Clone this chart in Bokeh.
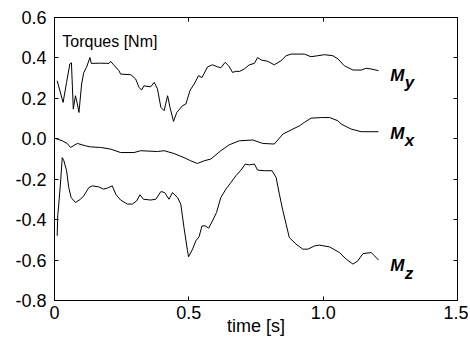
from bokeh.plotting import figure
from bokeh.models import Range1d, LinearAxis, FixedTicker, Label
from bokeh.embed import file_html
from bokeh.resources import INLINE
from bokeh.core.properties import value

# ---- data ----
t_my = [0.010, 0.032, 0.045, 0.057, 0.063, 0.070, 0.078, 0.085, 0.091, 0.101,
        0.109, 0.119, 0.132, 0.137, 0.172, 0.203, 0.209, 0.220, 0.240, 0.246,
        0.284, 0.302, 0.315, 0.324, 0.333, 0.358, 0.371, 0.383, 0.396, 0.408,
        0.421, 0.430, 0.443, 0.455, 0.476, 0.489, 0.505, 0.520, 0.536, 0.549,
        0.570, 0.588, 0.607, 0.619, 0.635, 0.648, 0.663, 0.675, 0.688, 0.706,
        0.725, 0.744, 0.756, 0.769, 0.794, 0.818, 0.843, 0.862, 0.881, 0.930,
        0.955, 0.980, 1.005, 1.036, 1.055, 1.079, 1.111, 1.142, 1.160, 1.179, 1.206]
my = [0.287, 0.180, 0.279, 0.370, 0.376, 0.147, 0.213, 0.173, 0.130, 0.271,
      0.328, 0.353, 0.402, 0.373, 0.374, 0.373, 0.383, 0.366, 0.337, 0.320,
      0.317, 0.296, 0.254, 0.241, 0.262, 0.257, 0.279, 0.248, 0.155, 0.139,
      0.213, 0.155, 0.086, 0.130, 0.163, 0.172, 0.241, 0.271, 0.312, 0.303,
      0.356, 0.366, 0.356, 0.351, 0.378, 0.361, 0.328, 0.334, 0.333, 0.345,
      0.366, 0.373, 0.402, 0.390, 0.383, 0.366, 0.386, 0.411, 0.419, 0.419,
      0.406, 0.411, 0.416, 0.411, 0.395, 0.361, 0.340, 0.340, 0.349, 0.345, 0.337]

t_mx = [0.000, 0.029, 0.047, 0.060, 0.085, 0.116, 0.134, 0.172, 0.209, 0.246,
        0.296, 0.321, 0.383, 0.408, 0.445, 0.482, 0.507, 0.532, 0.557, 0.582,
        0.619, 0.650, 0.688, 0.738, 0.775, 0.818, 0.850, 0.887, 0.912, 0.930,
        0.955, 0.993, 1.024, 1.055, 1.067, 1.104, 1.142, 1.206]
mx = [0.003, -0.010, -0.023, -0.043, -0.023, -0.035, -0.040, -0.043, -0.051, -0.068,
      -0.068, -0.059, -0.063, -0.059, -0.073, -0.093, -0.109, -0.122, -0.109, -0.100,
      -0.059, -0.030, -0.010, -0.006, -0.023, -0.026, 0.023, 0.048, 0.064, 0.081,
      0.102, 0.105, 0.105, 0.089, 0.073, 0.048, 0.035, 0.035]

t_mz = [0.010, 0.012, 0.016, 0.022, 0.029, 0.035, 0.045, 0.053, 0.062, 0.078,
        0.097, 0.109, 0.128, 0.141, 0.165, 0.182, 0.197, 0.215, 0.228, 0.246,
        0.271, 0.290, 0.306, 0.318, 0.331, 0.358, 0.377, 0.396, 0.410, 0.426,
        0.439, 0.458, 0.470, 0.482, 0.495, 0.499, 0.514, 0.526, 0.538, 0.549,
        0.561, 0.574, 0.588, 0.603, 0.619, 0.638, 0.657, 0.675, 0.694, 0.710,
        0.725, 0.744, 0.756, 0.781, 0.810, 0.825, 0.837, 0.850, 0.862, 0.874,
        0.899, 0.924, 0.943, 0.968, 0.986, 1.024, 1.061, 1.086, 1.111, 1.129,
        1.148, 1.179, 1.191, 1.206]
mz = [-0.480, -0.381, -0.323, -0.224, -0.093, -0.109, -0.158, -0.241, -0.291, -0.315,
      -0.299, -0.282, -0.241, -0.233, -0.238, -0.249, -0.244, -0.233, -0.274, -0.303,
      -0.323, -0.323, -0.307, -0.277, -0.299, -0.303, -0.299, -0.261, -0.266, -0.299,
      -0.266, -0.291, -0.323, -0.439, -0.554, -0.584, -0.546, -0.505, -0.485, -0.431,
      -0.431, -0.442, -0.406, -0.365, -0.291, -0.249, -0.216, -0.183, -0.155, -0.125,
      -0.129, -0.125, -0.155, -0.158, -0.158, -0.192, -0.274, -0.356, -0.422, -0.489,
      -0.521, -0.546, -0.546, -0.530, -0.526, -0.535, -0.563, -0.596, -0.620, -0.604,
      -0.568, -0.563, -0.579, -0.600]

x_ticks = [0.0, 0.5, 1.0, 1.5]
x_tick_labels = ["0", "0.5", "1.0", "1.5"]
y_ticks = [0.6, 0.4, 0.2, 0.0, -0.2, -0.4, -0.6, -0.8]
y_tick_labels = ["0.6", "0.4", "0.2", "0.0", "-0.2", "-0.4", "-0.6", "-0.8"]
series_main = ["M", "M", "M"]
series_sub = ["y", "x", "z"]
x_title = "time [s]"
y_title = "Torques [Nm]"

# ---- figure ----
FONT = "Liberation Sans"
p = figure(width=468, height=342, output_backend="svg", toolbar_location=None,
           x_range=Range1d(0, 1.5), y_range=Range1d(-0.8, 0.6),
           min_border_left=54, min_border_right=11, min_border_top=17,
           min_border_bottom=42, x_axis_location=None, y_axis_location=None)
p.grid.visible = False
p.outline_line_color = "black"
p.outline_line_width = 1
p.background_fill_color = "white"
p.border_fill_color = "white"

def make_axis(ticks, labels, show):
    ax = LinearAxis(ticker=FixedTicker(ticks=ticks))
    ax.major_label_overrides = {t: (l if show else "") for t, l in zip(ticks, labels)}
    ax.major_tick_in = 4
    ax.major_tick_out = 0
    ax.minor_tick_line_color = None
    ax.axis_line_color = "black"
    ax.major_tick_line_color = "black"
    ax.major_label_text_font = FONT
    ax.major_label_text_font_size = "18px" if show else "0px"
    ax.major_label_text_color = "black"
    return ax

xb = make_axis(x_ticks, x_tick_labels, True)
xb.major_label_standoff = 5
xb.axis_label = x_title
xb.axis_label_text_font = FONT
xb.axis_label_text_font_size = "18px"
xb.axis_label_text_font_style = "normal"
xb.axis_label_text_color = "black"
xb.axis_label_standoff = -6
p.add_layout(xb, "below")
yl = make_axis(y_ticks, y_tick_labels, True)
yl.major_label_standoff = 8
p.add_layout(yl, "left")
xt = make_axis(x_ticks, x_tick_labels, False)
xt.major_label_standoff = 0
p.add_layout(xt, "above")
yr = make_axis(y_ticks, y_tick_labels, False)
yr.major_label_standoff = 0
p.add_layout(yr, "right")

for t, v in ((t_my, my), (t_mx, mx), (t_mz, mz)):
    p.line(t, v, line_color="black", line_width=1.0)

# series labels M with subscript
label_x = 1.25
label_y = [0.312, 0.026, -0.629]
p.text(x=[label_x] * 3, y=label_y, text=series_main,
       text_font=value(FONT), text_font_size="17px", text_font_style="bold italic",
       text_baseline="alphabetic", text_align="left", text_color="black")
p.text(x=[label_x + 0.054] * 3, y=[v - 0.035 for v in label_y], text=series_sub,
       text_font=value(FONT), text_font_size="17px", text_font_style="bold italic",
       text_baseline="alphabetic", text_align="left", text_color="black")

p.add_layout(Label(x=0.029, y=0.482, text=y_title, text_font=FONT,
                   text_font_size="16px", text_baseline="alphabetic",
                   text_align="left", text_color="black"))

open("out.html", "w").write(file_html(p, INLINE))
